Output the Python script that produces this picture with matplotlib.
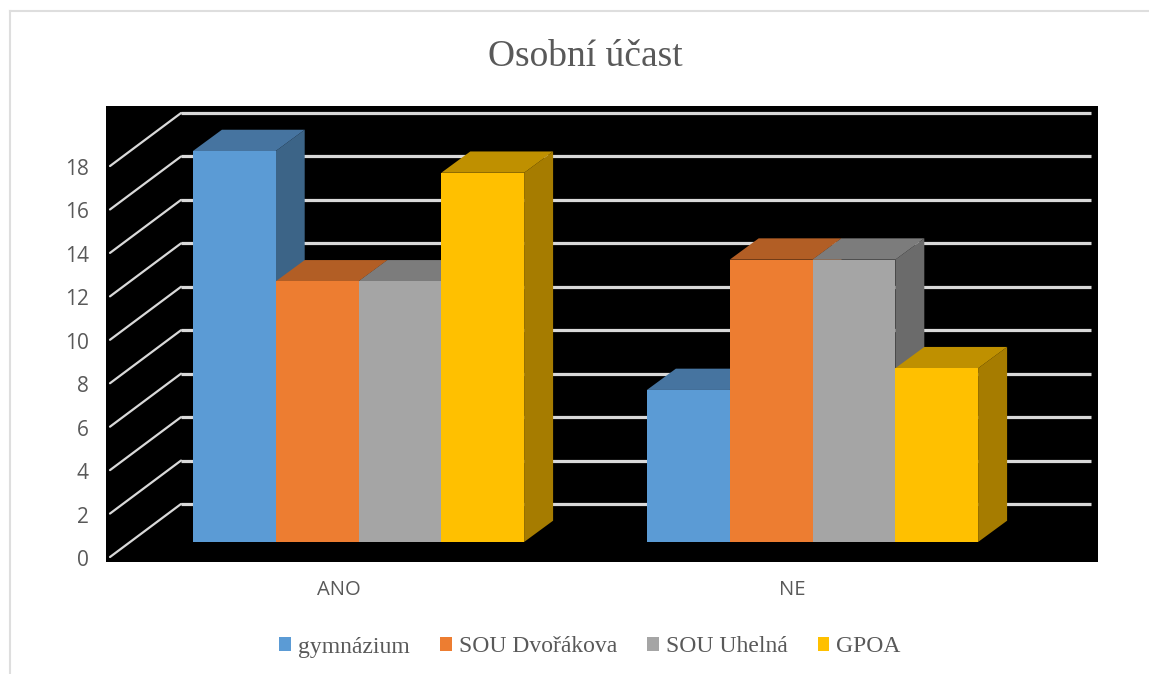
import matplotlib
matplotlib.use("Agg")
import matplotlib.pyplot as plt
from matplotlib.patches import Polygon, Patch
from matplotlib.transforms import ScaledTranslation
import numpy as np

categories = ["ANO", "NE"]
series_names = ["gymnázium", "SOU Dvořákova", "SOU Uhelná", "GPOA"]
gymnazium = [18, 7]
sou_dvorakova = [12, 13]
sou_uhelna = [12, 13]
gpoa = [17, 8]
series_values = [gymnazium, sou_dvorakova, sou_uhelna, gpoa]
front_colors = ["#5B9BD5", "#ED7D31", "#A5A5A5", "#FFC000"]
top_colors = ["#4674A0", "#B25E25", "#7C7C7C", "#BF9000"]
side_colors = ["#3C6487", "#A0541F", "#6B6B6B", "#A67C00"]
tick_values = list(range(0, 20, 2))

W, H = 1149, 674
fig = plt.figure(figsize=(W / 100, H / 100), dpi=100, facecolor="white")

# outer chart frame (left and top edges only are visible)
for xs, ys in [((9.5, 9.5), (674, 10.5)), ((9.5, 1149), (10.5, 10.5))]:
    fig.add_artist(plt.Line2D([x / W for x in xs], [1 - y / H for y in ys], color="#DEDEDE", lw=1.5))

L, R, T, B = 106, 1098, 106, 562
ax = fig.add_axes([L / W, 1 - B / H, (R - L) / W, (B - T) / H], facecolor="black")
PX_X = 454.0   # pixels per category
PX_Y = 21.72   # pixels per value unit
C0 = 358.5     # pixel of first category
Y0 = 542.0     # pixel of value 0
ax.set_xlim((L - C0) / PX_X, (R - C0) / PX_X)
ax.set_ylim((Y0 - B) / PX_Y, (Y0 - T) / PX_Y)

bar_w = 82.8 / PX_X
dx, dy = 29 / PX_X, 21.3 / PX_Y
back_dx, back_dy = (181 - 110) / PX_X, (557 - 504) / PX_Y
front_y = -15 / PX_Y
grid_left = (110 - C0) / PX_X
grid_right = (1091 - C0) / PX_X
grid_c = "#D9D9D9"

for v in tick_values:
    yb = v + front_y + back_dy
    ax.plot([grid_left, grid_left + back_dx], [v + front_y, yb], color=grid_c, lw=1.6, zorder=1,
            solid_capstyle="round")
    ax.plot([grid_left + back_dx, grid_right], [yb, yb], color=grid_c, lw=2.3, zorder=1,
            solid_capstyle="butt")

x = np.arange(len(categories))
z = 2
for i, (vals, fc, tc, sc) in enumerate(zip(series_values, front_colors, top_colors, side_colors)):
    for c, v in zip(x, vals):
        x0 = c + (i - 2) * bar_w
        x1 = x0 + bar_w
        ax.add_patch(Polygon([(x1, 0), (x1 + dx, dy), (x1 + dx, v + dy), (x1, v)], fc=sc, ec="none", zorder=z))
        ax.add_patch(Polygon([(x0, v), (x0 + dx, v + dy), (x1 + dx, v + dy), (x1, v)], fc=tc, ec="none", zorder=z))
        ax.bar(x0, v, width=bar_w, align="edge", color=fc, zorder=z + 0.5)
    z += 1

ax.set_xticks(x - 20 / PX_X, categories)
ax.set_yticks([v + front_y for v in tick_values], [str(v) for v in tick_values])
ax.tick_params(length=0, labelcolor="#595959")
ax.tick_params(axis="y", labelsize=15, pad=12.4)
ax.tick_params(axis="x", labelsize=14.6, pad=13)
for lab in ax.get_xticklabels() + ax.get_yticklabels():
    lab.set_fontfamily("Open Sans")
for lab in ax.get_yticklabels():
    lab.set_transform(lab.get_transform() + ScaledTranslation(0, -1 / 100, fig.dpi_scale_trans))
for s in ax.spines.values():
    s.set_visible(False)

fig.text(585 / W, 1 - 57 / H, "Osobní účast", family="Liberation Serif", fontsize=27,
         color="#595959", ha="center", va="center")

handles = [Patch(fc=c, ec="none") for c in front_colors]
fig.legend(handles, series_names, ncol=4, loc="center", bbox_to_anchor=(590 / W, 1 - 647 / H),
           frameon=False, prop={"family": "Liberation Serif", "size": 17}, labelcolor="#595959",
           handlelength=0.5, handleheight=0.5, handletextpad=0.3, columnspacing=1.27,
           borderpad=0, borderaxespad=0)

fig.savefig("out.png", dpi=100)
